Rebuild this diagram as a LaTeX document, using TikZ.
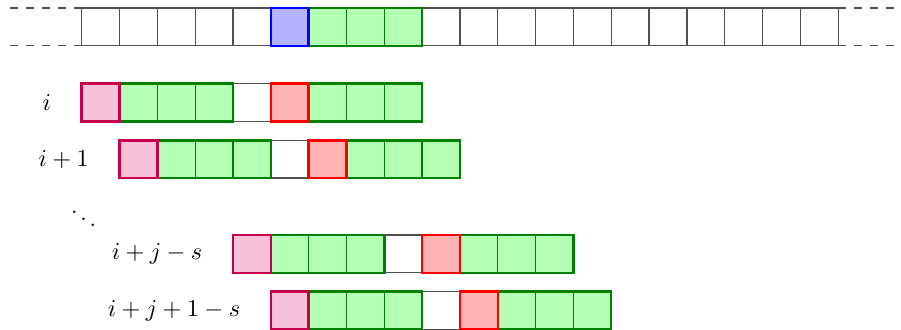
\documentclass[tikz,border=0pt]{standalone}
\usepackage{xcolor}
\usetikzlibrary{positioning, calc}
\definecolor{cGrid}{RGB}{80,80,80}
\definecolor{cBlue}{RGB}{0,0,255}
\definecolor{cBluebg}{RGB}{179,179,255}
\definecolor{cGreen}{RGB}{0,128,0}
\definecolor{cGreenbg}{RGB}{179,255,179}
\definecolor{cRed}{RGB}{255,0,0}
\definecolor{cRedbg}{RGB}{255,179,179}
\definecolor{cPink}{RGB}{199,0,77}
\definecolor{cPinkbg}{RGB}{246,193,217}

\begin{document}
\begin{tikzpicture}[x=0.6cm, y=0.6cm, font=\fontsize{10.5}{12}\selectfont]
\useasboundingbox (-2.16,0.21) rectangle (21.66,-8.5);

% ------------------- styles -------------------
\tikzstyle{cell} = [rectangle, inner sep=0, outer sep=0, minimum size=0.6cm, draw=cGrid, line width=0.6pt]
\tikzstyle{blankcell} = [rectangle, inner sep=0, outer sep=0, minimum size=0.6cm]
\tikzstyle{greencell} = [cell, draw=cGreen, fill=cGreenbg]
\tikzstyle{greenbox} = [draw=cGreen, line width=1.1pt]
\tikzstyle{bluecell} = [cell, draw=cBlue, fill=cBluebg, line width=1.1pt]
\tikzstyle{redcell} = [cell, draw=cRed, fill=cRedbg, line width=1.1pt]
\tikzstyle{pinkcell} = [cell, draw=cPink, fill=cPinkbg, line width=1.1pt]
\tikzstyle{dashline} = [draw=cGrid, line width=0.6pt, dash pattern=on 3.6pt off 3.6pt]
\tikzstyle{rowlabel} = [anchor=east, inner sep=0]

% ------------------- top row -------------------
\foreach \k in {0,...,19} \node[cell] (t-\k) at (\k+0.5,-0.5) {};
\draw[dashline] (t-0.north west) -- ++(-1.9,0);
\draw[dashline] (t-0.south west) -- ++(-1.9,0);
\draw[dashline] (t-19.north east) -- ++(1.5,0);
\draw[dashline] (t-19.south east) -- ++(1.5,0);

\foreach \k in {6,7,8} \node[greencell] (tg-\k) at (t-\k) {};
\draw[greenbox] (tg-6.north west) rectangle (tg-8.south east);
\node[bluecell] (tblue) at (t-5) {};

% ------------------- rows -------------------
\foreach \r/\s/\y/\lab in {ra/0/-2.5/i, rb/1/-4/i+1, rc/4/-6.5/i+j-s, rd/5/-8/i+j+1-s} {
  \node[rowlabel] (\r-lab) at (\s-0.8,\y) {$\lab$};
  % green blocks
  \foreach \k in {1,2,3,6,7,8} \node[greencell] (\r-\k) at (\s+\k+0.5,\y) {};
  \draw[greenbox] (\r-1.north west) rectangle (\r-3.south east);
  \draw[greenbox] (\r-6.north west) rectangle (\r-8.south east);
  % empty slot
  \node[blankcell] (\r-4) at (\s+4.5,\y) {};
  \draw[cGrid, line width=0.6pt] (\r-4.north west) -- (\r-4.north east) (\r-4.south west) -- (\r-4.south east);
  \node[pinkcell] (\r-0) at (\s+0.5,\y) {};
  \node[redcell] (\r-5) at (\s+5.5,\y) {};
}

\node (dots) at (0.05,-5.4) {$\ddots$};

\end{tikzpicture}
\end{document}
